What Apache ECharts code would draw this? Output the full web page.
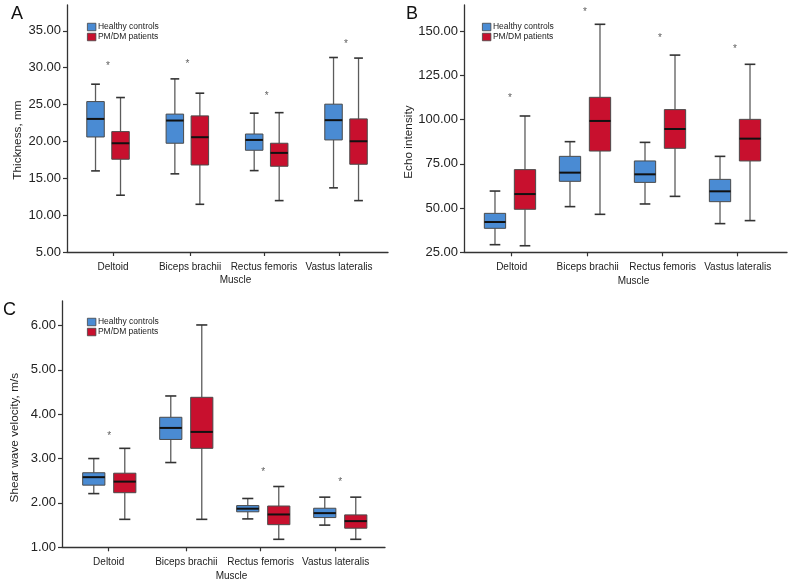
<!DOCTYPE html>
<html><head><meta charset="utf-8">
<script src="https://cdn.jsdelivr.net/npm/echarts@6/dist/echarts.min.js"></script>
<style>html,body{margin:0;padding:0;background:#fff}#c{width:788px;height:584px}</style>
</head><body><div id="c"></div>
<script>
const categories = ['Deltoid', 'Biceps brachii', 'Rectus femoris', 'Vastus lateralis'];
const groupNames = ['Healthy controls', 'PM/DM patients'];

// each row: [lower whisker, Q1, median, Q3, upper whisker]
const thicknessHealthy = [[16.0, 20.6, 23.05, 25.4, 27.76], [15.6, 19.75, 22.83, 23.7, 28.48], [16.04, 18.8, 20.2, 21.0, 23.83], [13.7, 20.2, 22.88, 25.05, 31.38]];
const thicknessPatients = [[12.7, 17.58, 19.75, 21.33, 25.95], [11.47, 16.8, 20.57, 23.46, 26.54], [11.97, 16.63, 18.44, 19.75, 23.9], [11.97, 16.9, 20.02, 23.05, 31.3]];
const thicknessStars = [30.4, 30.8, 26.35, 33.5];
const thicknessTicks = [5, 10, 15, 20, 25, 30, 35];

const echoHealthy = [[29.3, 38.55, 42.1, 47.0, 59.6], [50.8, 65.1, 70.0, 79.2, 87.5], [52.3, 64.5, 69.05, 76.6, 87.1], [41.2, 53.6, 59.45, 66.2, 79.2]];
const echoPatients = [[28.7, 49.3, 57.9, 71.7, 102.0], [46.45, 82.2, 99.2, 112.55, 153.8], [56.6, 83.75, 94.65, 105.6, 136.4], [42.9, 76.6, 89.2, 100.1, 131.2]];
const echoStars = [112.9, 161.9, 146.8, 140.6];
const echoTicks = [25, 50, 75, 100, 125, 150];

const velocityHealthy = [[2.21, 2.40, 2.58, 2.68, 3.0], [2.91, 3.43, 3.69, 3.93, 4.41], [1.64, 1.80, 1.87, 1.94, 2.10], [1.50, 1.67, 1.77, 1.88, 2.13]];
const velocityPatients = [[1.63, 2.23, 2.48, 2.67, 3.23], [1.63, 3.23, 3.60, 4.38, 6.01], [1.18, 1.51, 1.74, 1.93, 2.37], [1.18, 1.43, 1.59, 1.73, 2.13]];
const velocityStars = [3.55, null, 2.73, 2.51];
const velocityTicks = [1, 2, 3, 4, 5, 6];

const COLORS = ['#4a8bd3', '#c8102e'];
const FONT = '"Liberation Sans", Arial, Helvetica, sans-serif';

const panels = [
  { letter: 'A', letterPos: [11, 5], grid: { left: 67, top: 5, width: 321, height: 247 },
    xMin: -0.517, xMax: 3.529, ticks: [0.063, 1.034, 1.966, 2.912],
    yMin: 5, yMax: 38.5, yTicks: thicknessTicks, yName: 'Thickness, mm', nameGap: 43, namePad: 23,
    boxW: 17.5, off: 12.5, data: [thicknessHealthy, thicknessPatients], stars: thicknessStars, legend: [87, 22] },
  { letter: 'B', letterPos: [406, 5], grid: { left: 464, top: 5, width: 323, height: 247.3 },
    xMin: -0.613, xMax: 3.693, ticks: [0.023, 1.036, 2.036, 3.036],
    yMin: 25, yMax: 164.7, yTicks: echoTicks, yName: 'Echo intensity', nameGap: 47.5, namePad: 27,
    boxW: 21.3, off: 15, data: [echoHealthy, echoPatients], stars: echoStars, legend: [482, 22] },
  { letter: 'C', letterPos: [3, 301], grid: { left: 62, top: 301, width: 323, height: 246.3 },
    xMin: -0.614, xMax: 3.581, ticks: [-0.008, 1.0, 1.965, 2.94],
    yMin: 1, yMax: 6.55, yTicks: velocityTicks, yName: 'Shear wave velocity, m/s', nameGap: 41, namePad: 27,
    boxW: 22.2, off: 15.5, data: [velocityHealthy, velocityPatients], stars: velocityStars, legend: [87, 317] }
];

function makeRender(p, side) {
  return function (params, api) {
    const x = api.value(0);
    const lo = api.coord([x, api.value(1)]);
    const q1 = api.coord([x, api.value(2)]);
    const md = api.coord([x, api.value(3)]);
    const q3 = api.coord([x, api.value(4)]);
    const hi = api.coord([x, api.value(5)]);
    const cx = lo[0] + side * p.off;
    const hw = p.boxW / 2, cw = p.boxW / 4;
    const whisk = { stroke: '#5c5c5c', lineWidth: 1.3 };
    const cap = { stroke: '#333', lineWidth: 1.6 };
    return { type: 'group', children: [
      { type: 'line', shape: { x1: cx, y1: hi[1], x2: cx, y2: q3[1] }, style: whisk },
      { type: 'line', shape: { x1: cx, y1: q1[1], x2: cx, y2: lo[1] }, style: whisk },
      { type: 'line', shape: { x1: cx - cw, y1: hi[1], x2: cx + cw, y2: hi[1] }, style: cap },
      { type: 'line', shape: { x1: cx - cw, y1: lo[1], x2: cx + cw, y2: lo[1] }, style: cap },
      { type: 'rect', shape: { x: cx - hw, y: q3[1], width: p.boxW, height: q1[1] - q3[1] },
        style: { fill: api.visual('color'), stroke: '#4a4a4a', lineWidth: 1 } },
      { type: 'line', shape: { x1: cx - hw, y1: md[1], x2: cx + hw, y2: md[1] }, style: { stroke: '#111', lineWidth: 2 } }
    ] };
  };
}

const option = { animation: false, backgroundColor: '#fff', grid: [], xAxis: [], yAxis: [], series: [], legend: [], title: [] };

panels.forEach(function (p, pi) {
  option.grid.push(Object.assign({ containLabel: false }, p.grid));
  option.title.push({ text: p.letter, left: p.letterPos[0], top: p.letterPos[1], padding: 0,
    textStyle: { fontFamily: FONT, fontSize: 18, fontWeight: 'normal', color: '#111' } });
  option.xAxis.push({
    type: 'value', gridIndex: pi, min: p.xMin, max: p.xMax,
    name: 'Muscle', nameLocation: 'middle', nameGap: 23.5,
    nameTextStyle: { fontFamily: FONT, fontSize: 10, color: '#222', padding: [0, 0, 0, 16] },
    axisLine: { show: true, onZero: false, lineStyle: { color: '#333', width: 1.3 } },
    axisTick: { show: true, length: 4, customValues: p.ticks, lineStyle: { color: '#333', width: 1.2 } },
    axisLabel: { customValues: p.ticks, margin: 10, fontFamily: FONT, fontSize: 10, color: '#222',
      formatter: function (v) { const i = p.ticks.indexOf(v); return i >= 0 ? categories[i] : ''; } },
    splitLine: { show: false }
  });
  option.yAxis.push({
    type: 'value', gridIndex: pi, min: p.yMin, max: p.yMax,
    name: p.yName, nameLocation: 'middle', nameGap: p.nameGap, nameRotate: 90,
    nameTextStyle: { fontFamily: FONT, fontSize: 11.8, color: '#222', padding: [0, p.namePad, 0, 0] },
    axisLine: { show: true, onZero: false, lineStyle: { color: '#333', width: 1.3 } },
    axisTick: { show: true, length: 4, customValues: p.yTicks, lineStyle: { color: '#333', width: 1.2 } },
    axisLabel: { customValues: p.yTicks, margin: 6, fontFamily: FONT, fontSize: 13, color: '#222',
      formatter: function (v) { return v.toFixed(2); } },
    splitLine: { show: false }
  });
  [0, 1].forEach(function (g) {
    option.series.push({
      type: 'custom', name: groupNames[g], xAxisIndex: pi, yAxisIndex: pi,
      itemStyle: { color: COLORS[g], borderColor: '#444', borderWidth: 0.8 },
      encode: { x: 0, y: [1, 2, 3, 4, 5] },
      renderItem: makeRender(p, g === 0 ? -1 : 1),
      data: p.data[g].map(function (d, i) { return [i].concat(d); })
    });
  });
  option.series.push({
    type: 'scatter', name: 'sig' + pi, xAxisIndex: pi, yAxisIndex: pi, symbolSize: 0, silent: true,
    label: { show: true, position: 'inside', offset: [0, 2], formatter: '*', fontFamily: FONT, fontSize: 10, color: '#333' },
    data: p.stars.map(function (v, i) { return v == null ? null : [i, v]; }).filter(function (d) { return d; })
  });
  option.legend.push({
    left: p.legend[0], top: p.legend[1], orient: 'vertical', padding: 0, itemGap: 0,
    itemWidth: 8.5, itemHeight: 7.5, icon: 'rect', data: groupNames, selectedMode: false,
    itemStyle: { borderColor: '#444', borderWidth: 0.8 },
    textStyle: { fontFamily: FONT, fontSize: 8.5, color: '#222', lineHeight: 10, padding: [0, 0, 0, -3] }
  });
});

const chart = echarts.init(document.getElementById('c'), null, { renderer: 'canvas' });
chart.setOption(option);
</script>
</body></html>
